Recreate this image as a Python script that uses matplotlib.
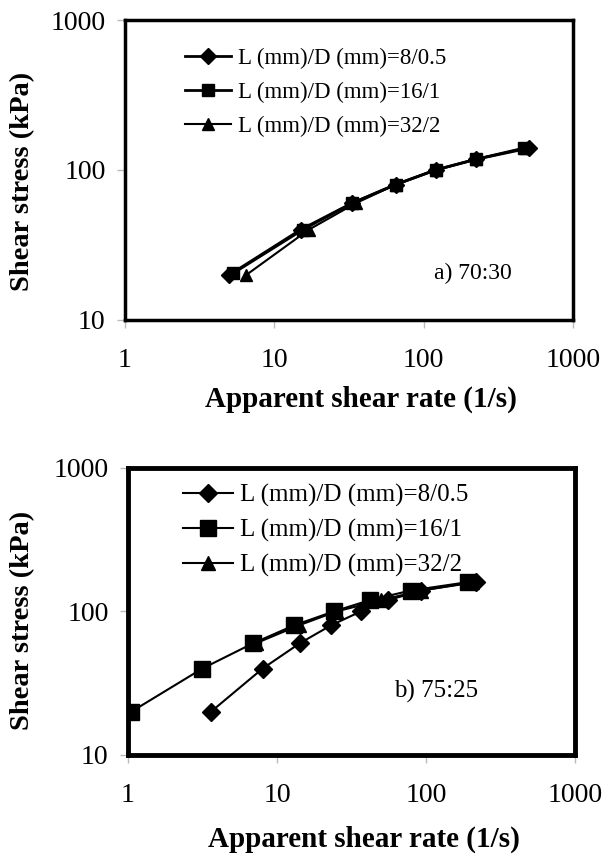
import matplotlib
matplotlib.use('Agg')
import matplotlib.pyplot as plt

plt.rcParams['font.family'] = ['Liberation Serif', 'DejaVu Serif']

labels = ['L (mm)/D (mm)=8/0.5', 'L (mm)/D (mm)=16/1', 'L (mm)/D (mm)=32/2']
markers = ['D', 's', '^']

# a) 70:30
a_rate_8 = [5, 15, 33, 65, 120, 225, 510]
a_stress_8 = [20, 40, 60, 80, 100, 118, 140]
a_rate_16 = [5.3, 15.5, 33, 65, 120, 225, 470]
a_stress_16 = [20.5, 40, 60, 80, 100, 118, 140]
a_rate_32 = [6.5, 17, 35, 65, 120, 225, 480]
a_stress_32 = [20, 40, 60, 80, 100, 118, 140]

# b) 75:25
b_rate_8 = [3.6, 8, 14.2, 23, 36.5, 56, 93, 215]
b_stress_8 = [20, 40, 60, 80, 100, 120, 140, 160]
b_rate_16 = [1.05, 3.15, 6.9, 13, 24, 42, 79, 190]
b_stress_16 = [20, 40, 60, 80, 100, 120, 140, 160]
b_rate_32 = [7.2, 14, 25, 50, 93, 205]
b_stress_32 = [60, 80, 100, 120, 140, 160]

ticks = [1, 10, 100, 1000]
tick_labels = ['1', '10', '100', '1000']
ytick_labels = ['10', '100', '1000']

fig = plt.figure(figsize=(6.09, 8.59), dpi=100)
ax1 = fig.add_axes([0.2053, 0.6275, 0.7356, 0.3492])
ax2 = fig.add_axes([0.2102, 0.1211, 0.7340, 0.3341])


def style_axes(ax, note, note_xy, legend_fs, note_fs, frame_lw, xpad,
               xlabel_y, ylabel_xy, leg_xy, spacing):
    ax.set_xscale('log')
    ax.set_yscale('log')
    ax.set_xlim(1, 1000)
    ax.set_ylim(10, 1000)
    ax.set_xticks(ticks)
    ax.set_xticklabels(tick_labels)
    ax.set_yticks([10, 100, 1000])
    ax.set_yticklabels(ytick_labels)
    ax.minorticks_off()
    ax.tick_params(direction='out', length=6, width=1, color='#bbbbbb',
                   labelsize=20, pad=8)
    ax.tick_params(axis='x', pad=xpad)
    for s in ax.spines.values():
        s.set_linewidth(frame_lw)
    ax.set_xlabel('Apparent shear rate (1/s)', fontsize=21, fontweight='bold')
    ax.xaxis.set_label_coords(0.527, xlabel_y)
    ax.set_ylabel('Shear stress (kPa)', fontsize=20.5, fontweight='bold')
    ax.yaxis.set_label_coords(*ylabel_xy)
    ax.text(note_xy[0], note_xy[1], note, transform=ax.transAxes, fontsize=note_fs)
    ax.legend(loc='upper left', bbox_to_anchor=leg_xy, frameon=False,
              fontsize=legend_fs, handlelength=2.0, handletextpad=0.3,
              labelspacing=spacing, borderaxespad=0)


ax1.plot(a_rate_8, a_stress_8, color='black', marker=markers[0], ms=8, lw=2, label=labels[0])
ax1.plot(a_rate_16, a_stress_16, color='black', marker=markers[1], ms=8, lw=2, label=labels[1])
ax1.plot(a_rate_32, a_stress_32, color='black', marker=markers[2], ms=8, lw=1.5, label=labels[2])
style_axes(ax1, 'a) 70:30', (0.69, 0.135), 16.5, 17, 2.5, 14,
           -0.22, (-0.2, 0.463), (0.113, 0.937), 0.55)

ax2.plot(b_rate_8, b_stress_8, color='black', marker=markers[0], ms=9, lw=1.5, label=labels[0])
ax2.plot(b_rate_16, b_stress_16, color='black', marker=markers[1], ms=11, lw=1.5, label=labels[1])
ax2.plot(b_rate_32, b_stress_32, color='black', marker=markers[2], ms=10, lw=1.5, label=labels[2])
style_axes(ax2, 'b) 75:25', (0.595, 0.20), 18, 18, 3.5, 14,
           -0.245, (-0.208, 0.47), (0.1, 0.98), 0.48)

fig.savefig('out.png', dpi=100)
